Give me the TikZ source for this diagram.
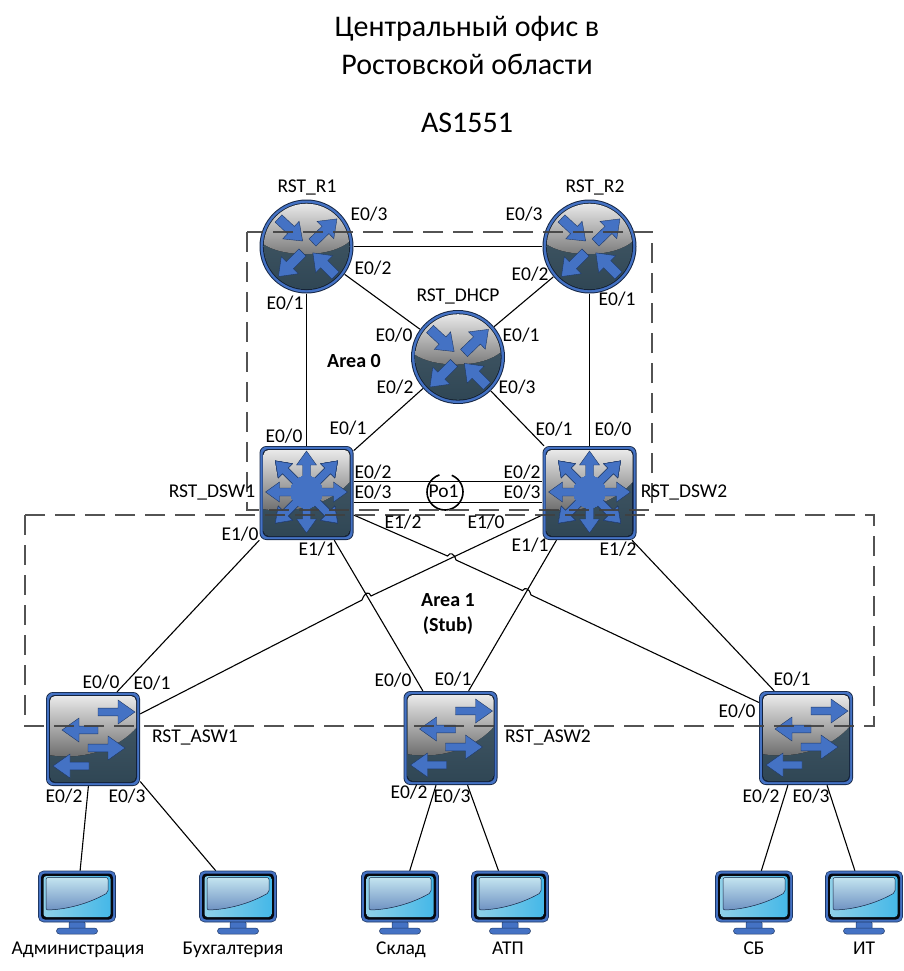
\documentclass[tikz,border=0pt]{standalone}
\usepackage{fontspec}
\setmainfont{Carlito}
\usetikzlibrary{calc}
\definecolor{iconblue}{HTML}{4472C4}
\definecolor{iconnavy}{HTML}{1F3864}
\definecolor{icondark}{HTML}{324A59}
\definecolor{areagrey}{HTML}{404040}
\definecolor{screenleft}{HTML}{8FD0E8}
\definecolor{screenright}{HTML}{45B8E8}
\definecolor{glaretop}{HTML}{C3E4F0}
\definecolor{glarebot}{HTML}{6F92C2}
\tikzset{
  routerbase/.style={circle,inner sep=0pt,minimum size=94pt},
  switchbase/.style={rectangle,inner sep=0pt,minimum size=94pt},
  pcbase/.style={rectangle,inner sep=0pt,minimum width=77pt,minimum height=63pt},
  link/.style={line width=1.1pt,black},
  area/.style={line width=2.8pt,areagrey,opacity=.9,dash pattern=on 20pt off 10pt},
  portlabel/.style={font=\fontsize{19.5}{22}\selectfont,inner sep=0pt,text height=14pt,text depth=3pt},
  titlelabel/.style={font=\fontsize{30}{34}\selectfont,inner sep=0pt},
  arealabel/.style={font=\fontsize{20}{25}\selectfont\bfseries,inner sep=0pt,align=center},
  arrowfill/.style={fill=iconblue,draw=iconnavy,line width=.4pt,line join=miter},
}
% tail x, tail y, angle, length, half shaft, half head, head length
\newcommand{\blockarrow}[7]{
  \path[arrowfill,shift={(#1,#2)},rotate=#3] (0,-#5) -- ({#4-#7},-#5) -- ({#4-#7},-#6) -- (#4,0)
    -- ({#4-#7},#6) -- ({#4-#7},#5) -- (0,#5) -- cycle;
}
\tikzset{
  routericon/.pic={
    \fill[iconnavy!70!black] (0,0) circle (47);
    \fill[iconblue] (0,0) circle (46);
    \fill[iconnavy!60!black] (0,0) circle (43.6);
    \begin{scope}
      \clip (0,0) circle (42.8);
      \fill[top color=icondark!90!white,bottom color=icondark!95!black] (-43,-43) rectangle (43,43);
      \fill[top color=black!8,middle color=black!28,bottom color=black!55]
        (-44,-44) -- (44,-44) -- (44,-6) .. controls (25,12) and (-25,11) .. (-44,-3) -- cycle;
    \end{scope}
    \blockarrow{-28}{-28}{-43}{33}{5}{12}{16}
    \blockarrow{6}{-4}{44}{34}{5}{12}{16}
    \blockarrow{-4}{6}{225}{34}{5}{12}{16}
    \blockarrow{29}{29}{135}{32}{5}{12}{16}
  },
  squarebody/.pic={
    \fill[iconnavy!70!black,rounded corners=7] (-47,-47) rectangle (47,47);
    \fill[iconblue,rounded corners=6.5] (-46.2,-46.2) rectangle (46.2,46.2);
    \fill[iconnavy!60!black,rounded corners=6] (-44,-44) rectangle (44,44);
    \begin{scope}
      \clip[rounded corners=5] (-43,-43) rectangle (43,43);
      \fill[top color=icondark!90!white,bottom color=icondark!95!black] (-43,-43) rectangle (43,43);
      \fill[top color=black!8,middle color=black!30,bottom color=black!60]
        (-44,-44) -- (44,-44) -- (44,-12) .. controls (27,8) and (-7,22) .. (-44,16) -- cycle;
    \end{scope}
  },
  coreicon/.pic={
    \pic {squarebody};
    \foreach \ang in {0,90,180,270}
      \blockarrow{0}{-1}{\ang}{41}{4}{10}{14}
    \foreach \ang in {45,135,225,315}
      \blockarrow{0}{-1}{\ang}{44}{4}{10}{14}
    \fill[iconblue] (0,-1) circle (16);
  },
  accessicon/.pic={
    \pic {squarebody};
    \blockarrow{5}{-27}{0}{37}{3.9}{12}{17}
    \blockarrow{5}{-9}{180}{36}{3.9}{12}{17}
    \blockarrow{-5}{9}{0}{37}{3.9}{12}{17}
    \blockarrow{-4}{27}{180}{36}{3.9}{12}{17}
  },
  pcicon/.pic={
    \fill[iconblue,draw=iconnavy,line width=.5pt,rounded corners=1.5] (-8,19) rectangle (8,27);
    \fill[iconblue,draw=iconnavy,line width=.5pt,rounded corners=3] (-20.5,25.5) rectangle (20.5,31.5);
    \fill[iconblue,draw=iconnavy,line width=.6pt,rounded corners=5] (-38.5,-31.5) rectangle (38.5,19.5);
    \fill[black!85!iconnavy,rounded corners=4] (-36,-29) rectangle (36,17);
    \shade[left color=screenleft,right color=screenright,rounded corners=3] (-33.5,-26.5) rectangle (33.5,14.5);
    \draw[iconnavy!70!black,line width=.5pt,top color=glaretop,bottom color=glarebot,rounded corners=2]
      (-31,-25) -- (31,-25) -- (31,-10) .. controls (12,1) and (-10,7) .. (-31,7.5) -- cycle;
  },
}
\begin{document}
\begin{tikzpicture}[x=1pt,y=-1pt]
  \useasboundingbox (0,0) rectangle (903,971);
  % devices
  \node[routerbase] (R1) at (306.5,246.5) {};
  \node[routerbase] (R2) at (589.5,246.5) {};
  \node[routerbase] (DHCP) at (458,357) {};
  \node[switchbase] (DSW1) at (306.5,493) {};
  \node[switchbase] (DSW2) at (589.5,493) {};
  \node[switchbase] (ASW1) at (93,739) {};
  \node[switchbase] (ASW2) at (450.5,738) {};
  \node[switchbase] (ASW3) at (806,738) {};
  \node[pcbase] (PCadm) at (77,902.5) {};
  \node[pcbase] (PCbuh) at (238,902.5) {};
  \node[pcbase] (PCskl) at (400,902.5) {};
  \node[pcbase] (PCatp) at (510,902.5) {};
  \node[pcbase] (PCsb) at (754,902.5) {};
  \node[pcbase] (PCit) at (864,902.5) {};

  % links
  \coordinate (poTop) at (450,481.5);
  \coordinate (poBot) at (450,502.5);
  \draw[link] (R1) -- (R2);
  \draw[link] (R1) -- (DSW1);
  \draw[link] (R2) -- (DSW2);
  \draw[link] (R1) -- (DHCP);
  \draw[link] (R2) -- (DHCP);
  \draw[link] (DHCP) -- (DSW1);
  \draw[link] (DHCP) -- (DSW2);
  \draw[link] (DSW1.east |- poTop) -- (DSW2.west |- poTop);
  \draw[link] (DSW1.east |- poBot) -- (DSW2.west |- poBot);
  \draw[link] (DSW1.225) -- (ASW1.63);
  \draw[link] (DSW1) -- (ASW2);
  \draw[link] (DSW2.-125) -- (ASW2.69);
  \draw[link] (DSW2.-48) -- (ASW3.124);
  \draw[link] (DSW1.-25) -- (447.5,556) .. controls (450,552) and (454,553) .. (456,560)
    -- (522.5,590.5) .. controls (525,587) and (529,588) .. (531,595) -- (ASW3.143);
  \draw[link] (DSW2.west |- 0,515) -- (371,596) .. controls (369,591) and (365,592) .. (362,600) -- (ASW1.28);
  \draw[link] (ASW1) -- (PCadm);
  \draw[link] (ASW1.-42) -- (PCbuh.125);
  \draw[link] (ASW2) -- (PCskl);
  \draw[link] (ASW2) -- (PCatp);
  \draw[link] (ASW3.-111) -- (PCsb.77);
  \draw[link] (ASW3.-66) -- (PCit.106);

  % icons
  \foreach \dev in {R1,R2,DHCP}
    \pic at (\dev) {routericon};
  \foreach \dev in {DSW1,DSW2}
    \pic at (\dev) {coreicon};
  \foreach \dev in {ASW1,ASW2,ASW3}
    \pic at (\dev) {accessicon};
  \foreach \dev in {PCadm,PCbuh,PCskl,PCatp,PCsb,PCit}
    \pic at (\dev) {pcicon};

  % port channel
  \node[portlabel] (Po) at (443.5,491.5) {Po1};
  \draw[line width=1.6pt] (445,492) ++(-68:18) arc (-68:252:18);

  % areas
  \draw[area] (247,232) rectangle (652,510);
  \draw[area] (25,515) rectangle (874,726);

  % texts
  \node[titlelabel] (title1) at (467,29) {Центральный офис в};
  \node[titlelabel] (title2) at (467,64) {Ростовской области};
  \node[titlelabel] (title3) at (467,123) {AS1551};
  \node[arealabel] (area0) at (354,361) {Area 0};
  \node[arealabel] (area1) at (448,614) {Area 1\\(Stub)};
  \foreach \lx/\ly/\txt [count=\i] in {
      307/187/RST_R1, 595/187/RST_R2, 458/296/RST_DHCP,
      212/492/RST_DSW1, 684/492/RST_DSW2, 195/737/RST_ASW1, 548/737/RST_ASW2,
      78/949/Администрация, 233/949/Бухгалтерия, 401/949/Склад,
      508/949/АТП, 754/949/СБ, 864/949/ИТ}
    \node[portlabel] (name\i) at (\lx,\ly) {\detokenize\expandafter{\txt}};
  \foreach \lx/\ly/\txt [count=\i] in {
      369/215/{E0/3}, 373/269/{E0/2}, 285/304/{E0/1},
      524/215/{E0/3}, 530/275/{E0/2}, 617/300/{E0/1},
      394/336/{E0/0}, 521/336/{E0/1}, 395/388/{E0/2}, 517/388/{E0/3},
      284/437/{E0/0}, 348/429/{E0/1}, 373/473/{E0/2}, 373/493/{E0/3},
      240/535/{E1/0}, 317/550/{E1/1}, 403/523/{E1/2},
      554/430/{E0/1}, 613/430/{E0/0}, 522/473/{E0/2}, 522/493/{E0/3},
      486/523/{E1/0}, 530/546/{E1/1}, 618/550/{E1/2},
      101/683/{E0/0}, 152/684/{E0/1}, 64/797/{E0/2}, 127/797/{E0/3},
      393/681/{E0/0}, 453/680/{E0/1}, 409/793/{E0/2}, 452/797/{E0/3},
      792/680/{E0/1}, 737/712/{E0/0}, 761/797/{E0/2}, 811/797/{E0/3}}
    \node[portlabel] (port\i) at (\lx,\ly) {\txt};
\end{tikzpicture}
\end{document}
